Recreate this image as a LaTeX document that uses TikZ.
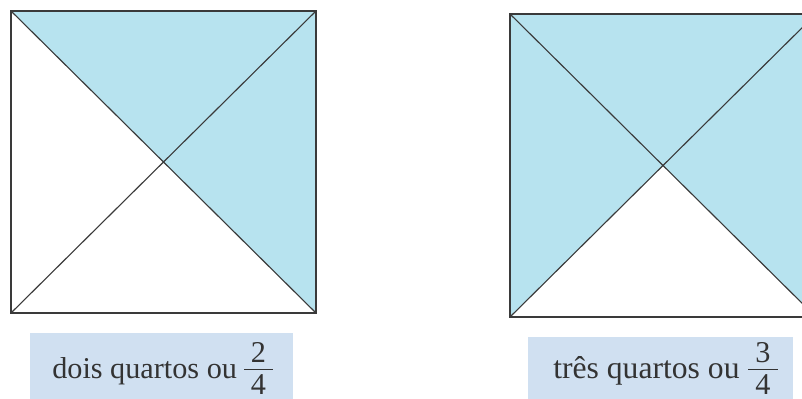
\documentclass[tikz,border=0pt]{standalone}
\usepackage{fontspec}
\setmainfont{Liberation Serif}
\usepackage{tikz}
\usetikzlibrary{positioning}
\definecolor{part}{HTML}{B7E3EF}
\definecolor{tag}{HTML}{D0E0F1}
\definecolor{edgeline}{HTML}{3A3A3A}
\definecolor{ink}{HTML}{333333}
\tikzset{
  square/.style={draw=edgeline, line width=0.9pt, line join=miter},
  piece/.style={fill=part},
  diag/.style={draw=edgeline, line width=0.8pt},
  tagbox/.style={fill=tag},
  caption/.style={font=\fontsize{21.5}{26}\selectfont, text=ink, inner sep=0pt, anchor=base west},
  digit/.style={font=\fontsize{21.5}{26}\selectfont, text=ink, inner sep=0pt, anchor=base},
  bar/.style={draw=ink, line width=0.7pt}
}
\begin{document}
\begin{tikzpicture}[x=0.025cm,y=-0.025cm]
\useasboundingbox (0,0) rectangle (802,399);
\clip (0,0) rectangle (802,399);
\fill[white] (0,0) rectangle (802,399);

% left square: two quarters
\coordinate (la) at (11,11);
\coordinate (lb) at (316,11);
\coordinate (lc) at (316,313);
\coordinate (ld) at (11,313);
\coordinate (lm) at (163.5,162);
\fill[piece] (la) -- (lb) -- (lc) -- (lm) -- cycle;
\draw[diag] (la) -- (lc) (lb) -- (ld);
\draw[square] (la) rectangle (lc);

% right square: three quarters
\coordinate (ra) at (510,14);
\coordinate (rb) at (816,14);
\coordinate (rc) at (816,317);
\coordinate (rd) at (510,317);
\coordinate (rm) at (663,165.5);
\fill[piece] (ra) -- (rb) -- (rc) -- (rm) -- (rd) -- cycle;
\draw[diag] (ra) -- (rc) (rb) -- (rd);
\draw[square] (ra) rectangle (rc);

% captions
\fill[tagbox] (30,333) rectangle (293,405);
\node[caption] (ltext) at (52,378) {dois quartos ou};
\node[digit] (lnum) at (258.5,362) {2};
\node[digit] (lden) at (258.5,394) {4};
\coordinate (lbarw) at (244,369.5);
\coordinate (lbare) at (273,369.5);
\draw[bar] (lbarw) -- (lbare);

\fill[tagbox] (528,337) rectangle (793,405);
\node[caption, font=\fontsize{22.5}{26}\selectfont] (rtext) at (553,378) {três quartos ou};
\node[digit] (rnum) at (763,362) {3};
\node[digit] (rden) at (763,394) {4};
\coordinate (rbarw) at (748,369.5);
\coordinate (rbare) at (778,369.5);
\draw[bar] (rbarw) -- (rbare);
\end{tikzpicture}
\end{document}
